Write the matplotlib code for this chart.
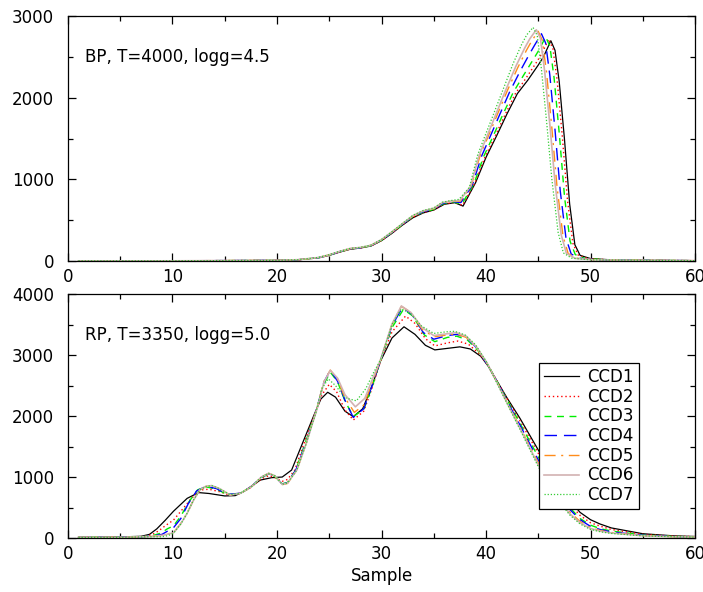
from matplotlib import pyplot as plt
from matplotlib.ticker import MultipleLocator

plt.rcParams['font.family'] = ['DejaVu Sans']

labels = ['CCD1', 'CCD2', 'CCD3', 'CCD4', 'CCD5', 'CCD6', 'CCD7']

# BP, T=4000, logg=4.5 : common low part, then each CCD's own points
bp_x_low = [1, 10, 20, 22, 24, 25, 26, 27, 28, 29, 30, 31, 32, 33, 34, 35]
bp_ccd1_ylow = [2, 3, 8, 15, 40, 70, 110, 145, 160, 185, 250, 340, 440, 530, 590, 625]
bp_ccd2_ylow = [2, 3, 8, 15, 41, 71, 112, 147, 161, 187, 252, 343, 443, 535, 594, 628]
bp_ccd3_ylow = [2, 3, 8, 16, 42, 73, 114, 149, 163, 189, 256, 348, 448, 542, 600, 633]
bp_ccd4_ylow = [2, 3, 9, 16, 43, 74, 116, 151, 164, 191, 259, 351, 452, 547, 606, 638]
bp_ccd5_ylow = [2, 3, 9, 16, 44, 76, 117, 152, 166, 193, 261, 355, 455, 552, 611, 643]
bp_ccd6_ylow = [2, 3, 9, 17, 44, 77, 118, 154, 167, 194, 263, 358, 458, 556, 615, 646]
bp_ccd7_ylow = [2, 3, 9, 17, 45, 78, 120, 155, 168, 195, 265, 360, 460, 560, 620, 650]

bp_ccd1_x = [36, 37, 37.8, 39, 40, 41, 42, 43, 44, 45, 45.5, 46.2, 46.6, 47, 47.5, 48, 48.5, 49, 50, 52, 55, 60]
bp_ccd1_y = [695, 715, 673, 960, 1270, 1530, 1800, 2050, 2215, 2400, 2500, 2697, 2580, 2200, 1500, 700, 200, 70, 30, 15, 10, 5]
bp_ccd2_x = [36, 36.95, 37.75, 38.93, 39.9, 40.86, 41.83, 42.83, 43.83, 44.81, 45.31, 46.0, 46.4, 46.8, 47.3, 47.8, 48.31, 48.81, 49.78, 51.76, 55, 60]
bp_ccd2_y = [698, 718, 683, 953, 1274, 1526, 1795, 2055, 2240, 2430, 2532, 2717, 2600, 2218, 1524, 736, 218, 74, 31, 15, 10, 5]
bp_ccd3_x = [35.94, 36.88, 37.68, 38.83, 39.77, 40.65, 41.59, 42.59, 43.59, 44.54, 45.04, 45.71, 46.11, 46.51, 47.01, 47.51, 48.04, 48.54, 49.48, 51.42, 55, 60]
bp_ccd3_y = [702, 722, 697, 943, 1279, 1521, 1788, 2062, 2274, 2472, 2578, 2744, 2630, 2244, 1558, 787, 243, 79, 31, 15, 10, 5]
bp_ccd4_x = [35.89, 36.79, 37.59, 38.68, 39.58, 40.36, 41.26, 42.26, 43.26, 44.15, 44.65, 45.3, 45.7, 46.1, 46.6, 47.1, 47.65, 48.15, 49.05, 50.94, 55, 60]
bp_ccd4_y = [708, 728, 716, 928, 1286, 1514, 1779, 2071, 2324, 2533, 2643, 2783, 2670, 2280, 1606, 859, 280, 86, 33, 15, 10, 5]
bp_ccd5_x = [35.86, 36.72, 37.52, 38.57, 39.43, 40.15, 41.01, 42.01, 43.01, 43.86, 44.36, 44.99, 45.39, 45.79, 46.29, 46.79, 47.36, 47.86, 48.72, 50.58, 55, 60]
bp_ccd5_y = [713, 733, 731, 917, 1291, 1509, 1772, 2078, 2361, 2578, 2692, 2813, 2700, 2307, 1642, 913, 307, 91, 34, 15, 10, 5]
bp_ccd6_x = [35.84, 36.67, 37.47, 38.51, 39.34, 40.02, 40.85, 41.85, 42.85, 43.69, 44.19, 44.81, 45.21, 45.61, 46.11, 46.61, 47.19, 47.69, 48.52, 50.36, 55, 60]
bp_ccd6_y = [716, 736, 740, 911, 1295, 1505, 1767, 2083, 2383, 2605, 2721, 2831, 2724, 2323, 1664, 946, 323, 94, 34, 15, 10, 5]
bp_ccd7_x = [35.8, 36.6, 37.4, 38.4, 39.2, 39.8, 40.6, 41.6, 42.6, 43.4, 43.9, 44.5, 44.9, 45.3, 45.8, 46.3, 46.9, 47.4, 48.2, 50, 55, 60]
bp_ccd7_y = [720, 740, 755, 900, 1300, 1500, 1760, 2090, 2420, 2650, 2770, 2860, 2760, 2350, 1700, 1000, 350, 100, 35, 15, 10, 5]

# RP, T=3350, logg=5.0
rp_ccd1_x = [1, 5, 7, 7.8, 8.5, 9.3, 10.1, 11.4, 12.5, 13.5, 15, 16, 16.8, 18.4, 19.5, 20.5, 21.4, 22.5, 23.5, 24.2, 24.85, 25.6, 26.5, 27.3, 28.2, 29.1, 29.9, 31, 32.15, 33.2, 34.2, 35.1, 36.3, 37.5, 38.5, 39.5, 40.2, 41, 42, 43.25, 45, 46, 47, 48, 49, 50, 50.9, 52, 55, 58, 60]
rp_ccd1_y = [10, 18, 28, 60, 150, 290, 440, 650, 745, 730, 690, 695, 760, 950, 990, 1000, 1115, 1580, 2000, 2280, 2390, 2310, 2080, 1990, 2120, 2500, 2900, 3280, 3464, 3340, 3160, 3085, 3110, 3135, 3100, 2980, 2820, 2590, 2300, 1962, 1443, 1160, 870, 620, 420, 300, 230, 165, 70, 35, 25]
rp_ccd2_x = [1, 5, 7, 8, 8.7, 9.3, 10.1, 11, 11.8, 12.8, 13.5, 14.5, 15.5, 16.5, 17.5, 18.5, 19.2, 19.8, 20.5, 21, 21.7, 22.6, 23.6, 24.3, 25, 25.7, 26.5, 27.3, 28.3, 29.1, 29.9, 31, 32.3, 33.2, 34.2, 35.1, 36.3, 37.3, 38.3, 39.3, 40.2, 41, 42, 43.25, 45, 46, 47, 48, 49, 50, 51, 52, 55, 58, 60]
rp_ccd2_y = [10, 14, 22, 50, 120, 200, 295, 480, 650, 790, 800, 760, 700, 735, 830, 970, 1020, 990, 930, 960, 1115, 1560, 2020, 2350, 2520, 2400, 2100, 1935, 2080, 2460, 2900, 3380, 3640, 3520, 3270, 3150, 3200, 3230, 3180, 3030, 2830, 2590, 2290, 1920, 1390, 1100, 810, 560, 370, 250, 190, 140, 60, 30, 22]
rp_ccd3_x = [1, 5, 7, 8, 8.9, 9.5, 10.1, 10.8, 11.6, 12.4, 13.2, 14.2, 15.3, 16.5, 17.5, 18.5, 19.2, 19.8, 20.5, 21, 21.8, 22.7, 23.7, 24.4, 25.1, 25.8, 26.5, 27.3, 28.3, 29.1, 29.9, 31, 32.1, 33, 34.1, 35.1, 36.3, 37.2, 38.2, 39.2, 40.2, 41, 42, 43.25, 45, 46, 47, 48, 49, 50, 51, 52, 55, 58, 60]
rp_ccd3_y = [10, 13, 20, 35, 80, 150, 200, 360, 600, 790, 840, 800, 710, 735, 840, 990, 1050, 1010, 890, 910, 1115, 1560, 2050, 2500, 2720, 2560, 2250, 1990, 2110, 2480, 2910, 3450, 3750, 3640, 3330, 3220, 3290, 3310, 3250, 3080, 2840, 2580, 2270, 1880, 1330, 1040, 750, 500, 320, 210, 150, 115, 50, 25, 20]
rp_ccd4_x = [1, 5, 7, 8, 9, 9.6, 10.1, 10.8, 11.5, 12.3, 13.2, 14.2, 15.3, 16.5, 17.5, 18.5, 19.2, 19.8, 20.5, 21, 21.8, 22.8, 23.8, 24.5, 25.1, 25.8, 26.5, 27.3, 28.3, 29.1, 29.9, 31, 32, 32.9, 34, 35, 36.3, 37.2, 38.2, 39.2, 40.1, 41, 42, 43.25, 45, 46, 47, 48, 49, 50, 51, 52, 55, 58, 60]
rp_ccd4_y = [10, 13, 20, 30, 60, 120, 170, 320, 560, 770, 850, 810, 715, 735, 840, 995, 1055, 1015, 885, 905, 1115, 1570, 2120, 2560, 2754, 2570, 2260, 1977, 2120, 2500, 2915, 3480, 3780, 3670, 3370, 3260, 3320, 3340, 3280, 3100, 2850, 2580, 2250, 1850, 1280, 990, 710, 470, 300, 190, 135, 100, 45, 22, 18]
rp_ccd5_x = [1, 5, 7, 8, 9, 9.6, 10.1, 10.8, 11.4, 12, 12.6, 13.2, 13.75, 14.5, 15.5, 16.5, 17.5, 18.5, 19.2, 19.8, 20.5, 21, 21.9, 22.8, 23.8, 24.5, 25.1, 25.8, 26.5, 27.4, 28.3, 29.1, 29.9, 31, 31.9, 32.8, 33.9, 35, 36.3, 37.1, 38.1, 39.1, 40.1, 40.95, 42, 43.25, 45, 46, 47, 48, 49, 50, 51, 52, 55, 58, 60]
rp_ccd5_y = [10, 12, 20, 25, 45, 70, 90, 240, 410, 620, 790, 845, 858, 810, 705, 733, 835, 1000, 1060, 1020, 875, 895, 1115, 1560, 2120, 2570, 2754, 2600, 2300, 2060, 2180, 2540, 2920, 3500, 3800, 3700, 3420, 3300, 3330, 3350, 3290, 3120, 2860, 2585, 2230, 1820, 1230, 940, 660, 430, 270, 170, 120, 90, 40, 20, 16]
rp_ccd6_x = [1, 5, 7, 8, 9, 9.6, 10.1, 10.8, 11.4, 12, 12.6, 13.2, 13.75, 14.5, 15.5, 16.5, 17.5, 18.5, 19.2, 19.8, 20.5, 21, 21.9, 22.8, 23.8, 24.5, 25.1, 25.8, 26.5, 27.5, 28.4, 29.1, 29.9, 31, 31.9, 32.8, 33.9, 35, 36.3, 37.1, 38.1, 39.1, 40.1, 40.95, 42, 43.25, 45, 46, 47, 48, 49, 50, 51, 52, 55, 58, 60]
rp_ccd6_y = [10, 12, 20, 25, 42, 65, 85, 235, 405, 615, 788, 848, 860, 810, 705, 733, 832, 1000, 1062, 1022, 878, 898, 1115, 1555, 2100, 2560, 2750, 2620, 2350, 2152, 2290, 2590, 2920, 3510, 3805, 3700, 3450, 3320, 3350, 3370, 3310, 3130, 2870, 2585, 2220, 1800, 1200, 910, 630, 400, 250, 155, 110, 82, 37, 20, 15]
rp_ccd7_x = [1, 5, 8, 9, 9.6, 10.1, 10.8, 11.4, 12, 12.6, 13.2, 13.75, 14.5, 15.5, 16.5, 17.5, 18.5, 19.2, 19.8, 20.5, 21, 21.9, 22.8, 23.7, 24.3, 24.9, 25.6, 26.5, 27.6, 28.5, 29.2, 29.9, 31, 31.9, 32.8, 33.8, 35, 36.2, 37, 38, 39, 40, 40.9, 42, 43.25, 45, 46, 47, 48, 49, 50, 51, 52, 55, 58, 60]
rp_ccd7_y = [10, 12, 20, 20, 40, 80, 230, 405, 620, 787, 845, 860, 810, 710, 735, 830, 1000, 1060, 1020, 880, 900, 1115, 1550, 2050, 2450, 2610, 2500, 2300, 2250, 2450, 2700, 2920, 3500, 3760, 3680, 3480, 3355, 3382, 3390, 3330, 3170, 2900, 2590, 2210, 1780, 1169, 880, 600, 380, 230, 140, 100, 75, 35, 20, 15]

bp_lines = [
    (bp_x_low + bp_ccd1_x, bp_ccd1_ylow + bp_ccd1_y),
    (bp_x_low + bp_ccd2_x, bp_ccd2_ylow + bp_ccd2_y),
    (bp_x_low + bp_ccd3_x, bp_ccd3_ylow + bp_ccd3_y),
    (bp_x_low + bp_ccd4_x, bp_ccd4_ylow + bp_ccd4_y),
    (bp_x_low + bp_ccd5_x, bp_ccd5_ylow + bp_ccd5_y),
    (bp_x_low + bp_ccd6_x, bp_ccd6_ylow + bp_ccd6_y),
    (bp_x_low + bp_ccd7_x, bp_ccd7_ylow + bp_ccd7_y),
]
rp_lines = [
    (rp_ccd1_x, rp_ccd1_y), (rp_ccd2_x, rp_ccd2_y), (rp_ccd3_x, rp_ccd3_y),
    (rp_ccd4_x, rp_ccd4_y), (rp_ccd5_x, rp_ccd5_y), (rp_ccd6_x, rp_ccd6_y),
    (rp_ccd7_x, rp_ccd7_y),
]

# Linienstile wie im Original
styles = [
    dict(color='black', linestyle='-', linewidth=0.9),
    dict(color='red', linestyle=(0, (1, 2)), linewidth=1.0),
    dict(color='#00ee00', linestyle=(0, (5, 4)), linewidth=1.0),
    dict(color='#0000ff', linestyle=(0, (9, 5)), linewidth=1.0),
    dict(color='#ff8c1a', linestyle=(0, (8, 4, 1.5, 4)), linewidth=1.0),
    dict(color='#d2b2b2', linestyle='-', linewidth=1.2),
    dict(color='#33cc33', linestyle=(0, (1, 1.5)), linewidth=0.9),
]

fig = plt.figure(figsize=(7.03, 5.92), dpi=100)
ax1 = fig.add_axes([0.0967, 0.559, 0.892, 0.414])
ax2 = fig.add_axes([0.0967, 0.0912, 0.892, 0.412])

for (x, y), st in zip(bp_lines, styles):
    ax1.plot(x, y, **st)
for (x, y), st, lab in zip(rp_lines, styles, labels):
    ax2.plot(x, y, label=lab, **st)

ax1.set_ylim(0, 3000)
ax2.set_ylim(0, 4000)
for ax in (ax1, ax2):
    ax.set_xlim(0, 60)
    ax.xaxis.set_major_locator(MultipleLocator(10))
    ax.xaxis.set_minor_locator(MultipleLocator(5))
    ax.yaxis.set_major_locator(MultipleLocator(1000))
    ax.yaxis.set_minor_locator(MultipleLocator(500))
    ax.tick_params(which='both', direction='in', top=True, right=True,
                   labelsize=12, width=0.9)
    ax.tick_params(which='major', length=6)
    ax.tick_params(which='minor', length=3.5)
    ax.tick_params(axis='y', pad=10)
    ax.tick_params(axis='x', pad=5)
    for s in ax.spines.values():
        s.set_linewidth(0.9)

ax1.text(0.027, 0.833, 'BP, T=4000, logg=4.5', transform=ax1.transAxes,
         fontsize=12, va='center')
ax2.text(0.027, 0.832, 'RP, T=3350, logg=5.0', transform=ax2.transAxes,
         fontsize=12, va='center')
ax2.set_xlabel('Sample', fontsize=12, labelpad=3)

leg = ax2.legend(loc='upper left', bbox_to_anchor=(0.751, 0.717), fontsize=12,
                 frameon=True, fancybox=False, framealpha=1, edgecolor='black',
                 handlelength=2.1, handletextpad=0.5, labelspacing=0.1,
                 borderpad=0.3, borderaxespad=0)
leg.get_frame().set_linewidth(0.9)

fig.savefig('out.png', dpi=100)
